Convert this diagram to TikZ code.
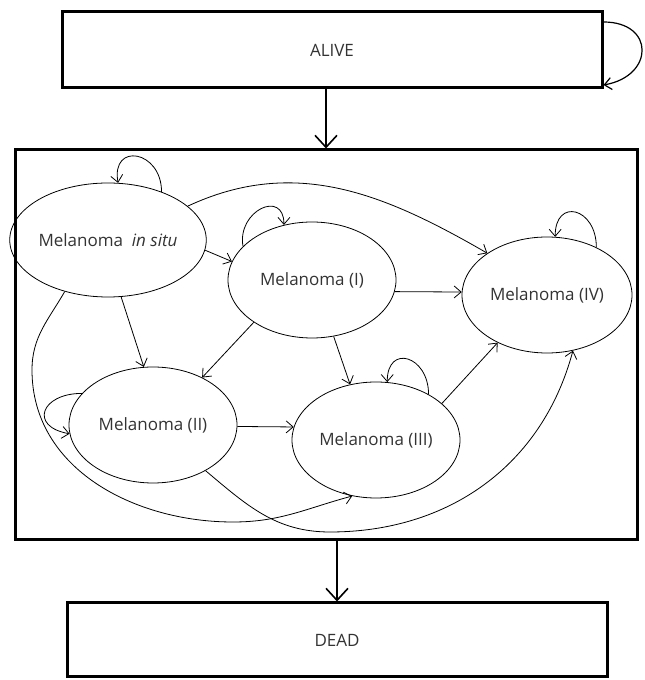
\documentclass[tikz,border=0pt]{standalone}
\usepackage{fontspec}
\setmainfont{Open Sans}
\usetikzlibrary{shapes.geometric,arrows.meta}

\begin{document}
\begin{tikzpicture}[
    x=1pt,y=1pt,
    font=\fontsize{17}{20}\selectfont,
    box/.style={draw,line width=3pt,minimum width=540pt,minimum height=76pt,text=black!80},
    state/.style={ellipse,draw,line width=0.8pt,minimum width=168pt,minimum height=116pt,inner sep=0pt,text=black!80},
    flow/.style={line width=1.6pt,-{Straight Barb[length=12pt,width=22pt]}},
    trans/.style={line width=0.8pt,-{Straight Barb[length=7pt,width=12pt]}}
    ]
    \useasboundingbox (0,0) rectangle (645,680);

    % ALIVE and DEAD
    \node[box] (alive) at (332,630) {ALIVE};
    \node[box,minimum height=74pt] (dead) at (337,40) {DEAD};

    % Melanoma stages
    \node[draw,line width=3pt,minimum width=622pt,minimum height=390pt] (stages) at (326,335) {};
    \node[state,minimum width=166pt,minimum height=114pt] (insitu) at (108,440) {Melanoma~ \textit{in situ}};
    \node[state] (stI) at (312,400) {Melanoma (I)};
    \node[state] (stII) at (153,255) {Melanoma (II)};
    \node[state] (stIII) at (376,240) {Melanoma (III)};
    \node[state,minimum width=170pt] (stIV) at (547,385) {Melanoma (IV)};

    % between the boxes
    \draw[flow] (alive.south -| stages.north) -- (stages.north);
    \draw[flow] (stages.south -| dead.north) -- (dead.north);
    \draw[trans,line width=1.2pt] ([yshift=28pt]alive.east) to[out=0,in=10,looseness=2.1] ([yshift=-35pt]alive.east);

    % self loops
    \draw[trans] (insitu.42) to[out=90,in=100,looseness=2.4] (insitu.80);
    \draw[trans] (stI.154) to[out=100,in=90,looseness=2] (stI.117);
    \draw[trans] (stII.156) to[out=180,in=170,looseness=2.5] (stII.186);
    \draw[trans] (stIII.41) to[out=90,in=90,looseness=2.3] (stIII.79);
    \draw[trans] (stIV.44) to[out=90,in=90,looseness=2.4] (stIV.82);

    % transitions
    \draw[trans] (insitu.-6) -- (stI.167);
    \draw[trans] (insitu.-77) -- (stII.99);
    \draw[trans] (insitu.23) to[out=25,in=150] (stIV.145);
    \draw[trans] (insitu.230) to[out=240,in=90] (32,310) to[out=270,in=180] (233,158) to[out=0,in=195] (stIII.247);
    \draw[trans] (stI.-8) -- (stIV.178);
    \draw[trans] (stI.216) -- (stII.44);
    \draw[trans] (stI.-69) -- (stIII.115);
    \draw[trans] (stII.-1) -- (stIII.171);
    \draw[trans] (stII.-41) to[out=-40,in=180] (330,148) to[out=0,in=255] (stIV.-65);
    \draw[trans] (stIII.29) -- (stIV.224);
\end{tikzpicture}
\end{document}
